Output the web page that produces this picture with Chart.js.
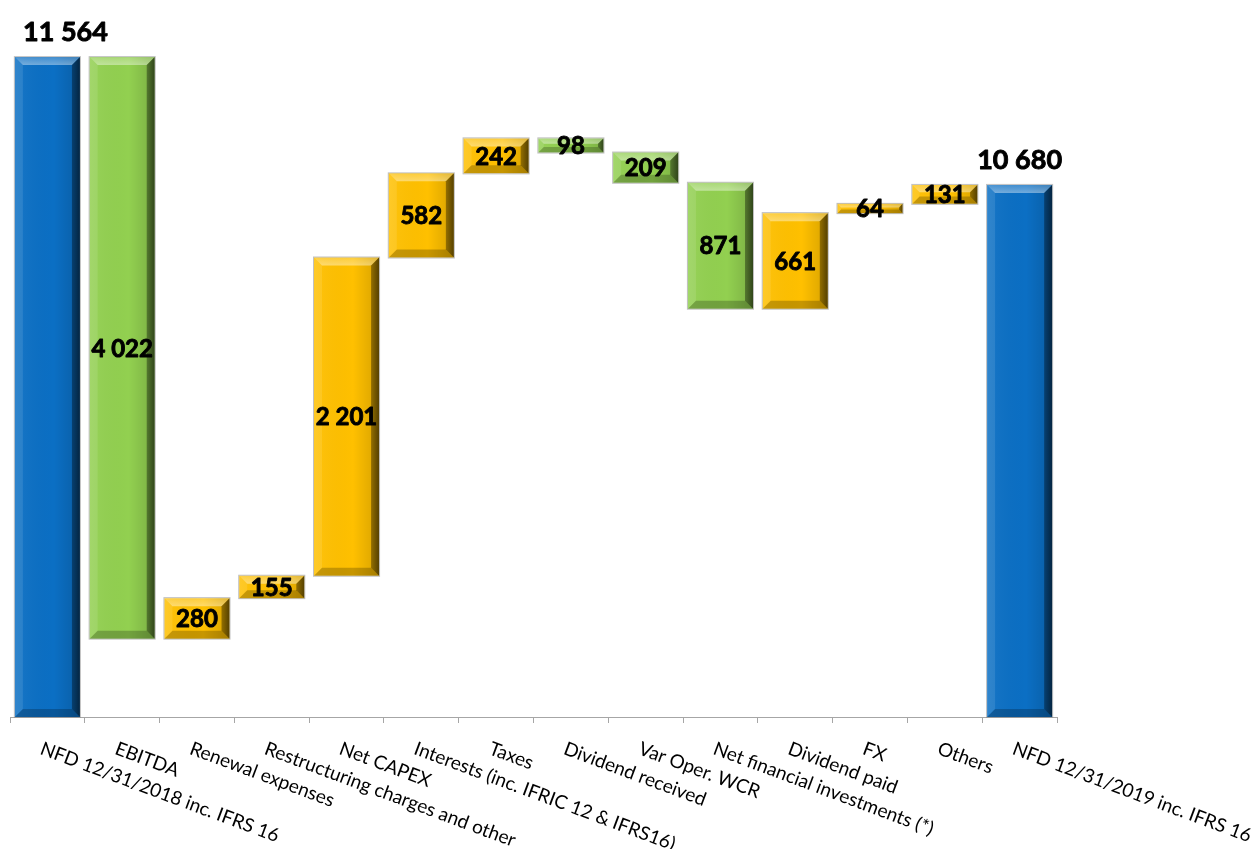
<!DOCTYPE html>
<html>
<head>
<meta charset="utf-8">
<script src="https://cdn.jsdelivr.net/npm/chart.js@4.4.0/dist/chart.umd.min.js"></script>
<style>
html, body { margin: 0; padding: 0; background: #ffffff; }
#wrap { width: 1255px; height: 849px; }
</style>
</head>
<body>
<div id="wrap"><canvas id="nfdChart"></canvas></div>
<script>
// Catégories de l'axe X
const categories = [
    'NFD 12/31/2018 inc. IFRS 16',
    'EBITDA',
    'Renewal expenses',
    'Restructuring charges and other',
    'Net CAPEX',
    'Interests (inc. IFRIC 12 & IFRS16)',
    'Taxes',
    'Dividend received',
    'Var Oper. WCR',
    'Net financial investments (*)',
    'Dividend paid',
    'FX',
    'Others',
    'NFD 12/31/2019 inc. IFRS 16'
];
const startValue = 11564; // dette nette début
const movements = [-4022, 280, 155, 2201, 582, 242, -98, -209, -871, 661, 64, 131];
const endValue = 10680;   // dette nette fin

const colors = {
    total: '#0B6FC4',
    down: '#92D050',
    up: '#FFC000'
};

// Construction des barres flottantes
const barData = [startValue];
const barColors = [colors.total];
const barLabels = [startValue];
let running = startValue;
movements.forEach(m => {
    const next = running + m;
    barData.push([Math.min(running, next), Math.max(running, next)]);
    barColors.push(m < 0 ? colors.down : colors.up);
    barLabels.push(Math.abs(m));
    running = next;
});
barData.push(endValue);
barColors.push(colors.total);
barLabels.push(endValue);

function fmt(v) {
    return String(v).replace(/\B(?=(\d{3})+(?!\d))/g, ' ');
}

// Effet biseauté + étiquettes
const bevelPlugin = {
    id: 'bevel',
    afterDatasetsDraw(chart) {
        const ctx = chart.ctx;
        const area = chart.chartArea;
        const meta = chart.getDatasetMeta(0);
        meta.data.forEach((bar, i) => {
            const p = bar.getProps(['x', 'y', 'base', 'width'], true);
            const l = p.x - p.width / 2, r = p.x + p.width / 2;
            const t = Math.min(p.y, p.base);
            const b = Math.min(Math.max(p.y, p.base), area.bottom);
            const h = b - t;
            const bv = Math.min(8, h / 2.6, p.width / 4);
            ctx.save();
            // face gradient
            const g = ctx.createLinearGradient(l, 0, r, 0);
            g.addColorStop(0, 'rgba(255,255,255,0.06)');
            g.addColorStop(0.6, 'rgba(0,0,0,0)');
            g.addColorStop(1, 'rgba(0,0,0,0.16)');
            ctx.fillStyle = g;
            ctx.fillRect(l, t, r - l, h);
            const poly = (pts, fill) => {
                ctx.beginPath();
                ctx.moveTo(pts[0][0], pts[0][1]);
                for (let k = 1; k < pts.length; k++) ctx.lineTo(pts[k][0], pts[k][1]);
                ctx.closePath();
                ctx.fillStyle = fill;
                ctx.fill();
            };
            const gt = ctx.createLinearGradient(0, t, 0, t + bv);
            gt.addColorStop(0, 'rgba(255,255,255,0.22)');
            gt.addColorStop(1, 'rgba(255,255,255,0.42)');
            poly([[l, t], [r, t], [r - bv, t + bv], [l + bv, t + bv]], gt);
            poly([[l, t], [l + bv, t + bv], [l + bv, b - bv], [l, b]], 'rgba(255,255,255,0.10)');
            const gr = ctx.createLinearGradient(r - bv, 0, r, 0);
            gr.addColorStop(0, 'rgba(0,0,0,0.35)');
            gr.addColorStop(1, 'rgba(0,0,0,0.6)');
            poly([[r, t], [r, b], [r - bv, b - bv], [r - bv, t + bv]], gr);
            poly([[l, b], [r, b], [r - bv, b - bv], [l + bv, b - bv]], 'rgba(0,0,0,0.22)');
            ctx.strokeStyle = 'rgba(140,140,140,0.55)';
            ctx.lineWidth = 1;
            ctx.strokeRect(l - 0.5, t - 0.5, r - l + 1, h + 1);
            ctx.restore();

            // étiquettes de données
            ctx.save();
            ctx.fillStyle = '#000000';
            ctx.strokeStyle = '#000000';
            ctx.lineWidth = 0.9;
            ctx.lineJoin = 'round';
            ctx.textAlign = 'center';
            const txt = fmt(barLabels[i]);
            if (barColors[i] === colors.total) {
                ctx.font = 'bold 27px Lato';
                ctx.textBaseline = 'alphabetic';
                const w = ctx.measureText(txt).width;
                const cx = Math.max(p.x, area.left + 13 + w / 2);
                ctx.fillText(txt, cx, t - 16);
                ctx.strokeText(txt, cx, t - 16);
            } else {
                ctx.font = 'bold 24px Lato';
                ctx.textBaseline = 'middle';
                ctx.fillText(txt, p.x, (t + b) / 2 + 1);
                ctx.strokeText(txt, p.x, (t + b) / 2 + 1);
            }
            ctx.restore();
        });

        // étiquettes de l'axe X inclinées
        const xs = chart.scales.x;
        ctx.save();
        ctx.fillStyle = '#000000';
        ctx.font = '19px Lato';
        ctx.textAlign = 'left';
        ctx.textBaseline = 'top';
        categories.forEach((c, i) => {
            const px = xs.getPixelForValue(i);
            ctx.save();
            ctx.translate(px - 3, xs.bottom + 16);
            ctx.rotate(20.5 * Math.PI / 180);
            ctx.fillText(c, 0, 0);
            ctx.restore();
        });
        ctx.restore();
    }
};

const ctx = document.getElementById('nfdChart').getContext('2d');
const nfdChart = new Chart(ctx, {
    type: 'bar',
    data: {
        labels: categories,
        datasets: [{
            data: barData,
            backgroundColor: barColors,
            borderWidth: 0,
            barPercentage: 0.87,
            categoryPercentage: 1.0
        }]
    },
    options: {
        responsive: true,
        maintainAspectRatio: false,
        animation: false,
        layout: {
            padding: { left: 10, right: 198, top: 23, bottom: 126 }
        },
        plugins: {
            legend: { display: false },
            tooltip: { enabled: false }
        },
        scales: {
            x: {
                offset: true,
                ticks: { display: false },
                grid: {
                    offset: true,
                    drawOnChartArea: false,
                    drawTicks: true,
                    tickLength: 6,
                    color: '#a6a6a6'
                },
                border: { color: '#a6a6a6', width: 1 }
            },
            y: {
                display: false,
                min: 7000,
                max: 11800
            }
        }
    },
    plugins: [bevelPlugin]
});
</script>
</body>
</html>
